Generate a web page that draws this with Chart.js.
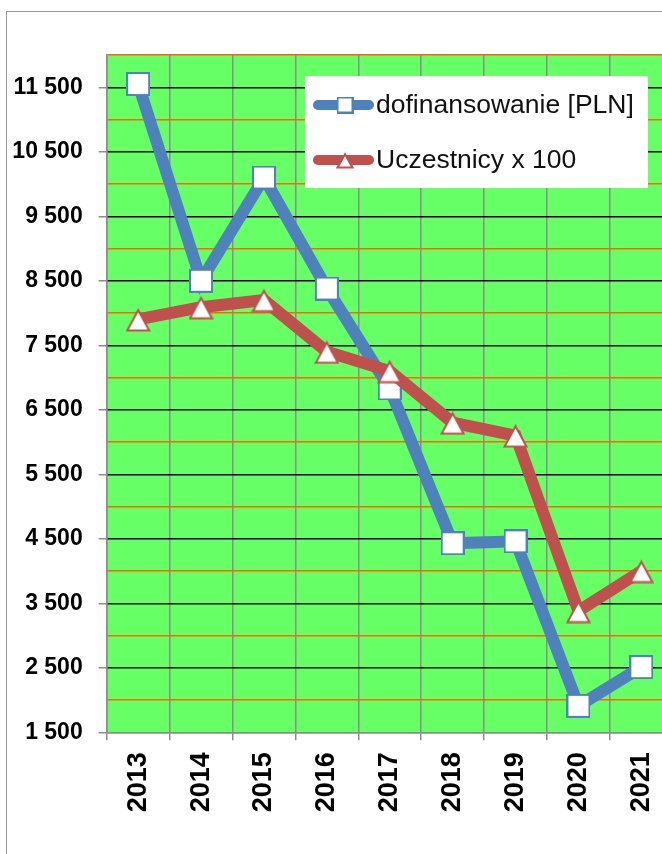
<!DOCTYPE html>
<html>
<head>
<meta charset="utf-8">
<script src="https://cdn.jsdelivr.net/npm/chart.js@4.4.1/dist/chart.umd.min.js"></script>
<style>
    html, body { margin: 0; padding: 0; background: #fff; overflow: hidden; width: 662px; height: 854px; }
    #frame { position: absolute; left: 6px; top: 11px; width: 800px; height: 900px; border: 1.5px solid #999; }
    #wrap { position: absolute; left: 0; top: 0; width: 700px; height: 854px; }
</style>
</head>
<body>
<div id="frame"></div>
<div id="wrap"><canvas id="chart" width="700" height="854"></canvas></div>
<script>
// data
const years = ['2013', '2014', '2015', '2016', '2017', '2018', '2019', '2020', '2021'];
const funding = [11550, 8500, 10100, 8380, 6830, 4430, 4460, 1910, 2510];
const participants = [7900, 8090, 8200, 7400, 7100, 6300, 6100, 3380, 4000];
const seriesLabels = ['dofinansowanie [PLN]', 'Uczestnicy x 100'];
const yMin = 1500, yMax = 12000, yStep = 500;

const BLUE = '#4F81BD';
const RED = '#C0504D';
const FONT = '"Liberation Sans", Arial, sans-serif';
const PLOT_RIGHT = 672.6;

function isMajor(v) {
    return (v - yMin) % 1000 === 0;
}

function fmt(v) {
    return String(v).replace(/\B(?=(\d{3})+(?!\d))/g, ' ');
}

// marker images
function squareMarker(size, color, lw) {
    const c = document.createElement('canvas');
    c.width = c.height = size;
    const g = c.getContext('2d');
    g.fillStyle = '#fff';
    g.fillRect(0, 0, size, size);
    g.strokeStyle = color;
    g.lineWidth = lw;
    g.strokeRect(lw / 2, lw / 2, size - lw, size - lw);
    return c;
}

function triangleMarker(size, color, lw) {
    const c = document.createElement('canvas');
    c.width = c.height = size;
    const g = c.getContext('2d');
    g.beginPath();
    g.moveTo(size / 2, lw * 1.6);
    g.lineTo(size - lw / 2 - 0.5, size - lw / 2 - 0.5);
    g.lineTo(lw / 2 + 0.5, size - lw / 2 - 0.5);
    g.closePath();
    g.fillStyle = '#fff';
    g.fill();
    g.strokeStyle = color;
    g.lineWidth = lw;
    g.lineJoin = 'miter';
    g.stroke();
    return c;
}

const sqBig = squareMarker(24, BLUE, 2);
const triBig = triangleMarker(25, RED, 2);
const sqSmall = squareMarker(17, BLUE, 2);
const triSmall = triangleMarker(18, RED, 2);

// green plot background
const plotBg = {
    id: 'plotBg',
    beforeDraw(chart) {
        const a = chart.chartArea, ctx = chart.ctx;
        ctx.save();
        ctx.fillStyle = '#66FF66';
        ctx.fillRect(a.left, a.top, a.right - a.left, a.bottom - a.top);
        ctx.restore();
    }
};

// legend box inside the plot
const boxLegend = {
    id: 'boxLegend',
    afterDraw(chart) {
        const ctx = chart.ctx;
        const markers = [sqSmall, triSmall];
        const colors = [BLUE, RED];
        ctx.save();
        ctx.fillStyle = '#fff';
        ctx.fillRect(305, 76, 343, 112);
        seriesLabels.forEach((label, i) => {
            const y = 105 + i * 55;
            ctx.strokeStyle = colors[i];
            ctx.lineWidth = 10;
            ctx.lineCap = 'round';
            ctx.beginPath();
            ctx.moveTo(318, y);
            ctx.lineTo(369, y);
            ctx.stroke();
            const m = markers[i];
            ctx.drawImage(m, 345 - m.width / 2, y - m.height / 2);
            ctx.fillStyle = '#111';
            ctx.font = '26.5px ' + FONT;
            ctx.textBaseline = 'middle';
            ctx.textAlign = 'left';
            ctx.fillText(label, 376, y + 1);
        });
        ctx.restore();
    }
};

const ctx = document.getElementById('chart').getContext('2d');
const chart = new Chart(ctx, {
    type: 'line',
    data: {
        labels: years,
        datasets: [{
            label: seriesLabels[0],
            data: funding,
            borderColor: BLUE,
            borderWidth: 12,
            pointStyle: sqBig,
            pointRadius: 12,
            order: 1,
            clip: false
        }, {
            label: seriesLabels[1],
            data: participants,
            borderColor: RED,
            borderWidth: 12,
            pointStyle: triBig,
            pointRadius: 12,
            order: 0,
            clip: false
        }]
    },
    options: {
        responsive: false,
        animation: false,
        devicePixelRatio: 1,
        layout: { padding: { top: 55, right: 0, left: 0, bottom: 0 } },
        plugins: {
            legend: { display: false },
            tooltip: { enabled: false }
        },
        scales: {
            x: {
                offset: true,
                afterFit: s => { s.height = 121.7; },
                grid: { offset: true, color: '#8c8c8c', lineWidth: 1.5, tickLength: 8 },
                border: { color: '#8c8c8c', width: 1.5 },
                ticks: {
                    autoSkip: false,
                    minRotation: 90,
                    maxRotation: 90,
                    padding: 12,
                    color: '#000',
                    font: { family: FONT, size: 27, weight: 'bold' }
                }
            },
            y: {
                min: yMin,
                max: yMax,
                afterFit: s => { s.width = 106.7; },
                grid: {
                    tickLength: 8,
                    color: c => c.tick.value === yMin ? '#8c8c8c' : (isMajor(c.tick.value) ? '#000' : '#FF6600'),
                    tickColor: c => isMajor(c.tick.value) ? '#8c8c8c' : 'rgba(0,0,0,0)',
                    lineWidth: 1.5
                },
                border: { color: '#8c8c8c', width: 1.5 },
                ticks: {
                    stepSize: yStep,
                    padding: 16,
                    color: '#000',
                    font: { family: FONT, size: 23, weight: 'bold' },
                    callback: v => isMajor(v) ? fmt(v) : ''
                }
            }
        }
    },
    plugins: [plotBg, boxLegend, {
        // pin the right edge of the plot where the reference has it
        id: 'pinRight',
        afterLayout(chart) {
            const a = chart.chartArea;
            if (Math.abs(a.right - PLOT_RIGHT) > 0.5) {
                const pad = chart.options.layout.padding;
                pad.right = Math.max(0, (pad.right || 0) + a.right - PLOT_RIGHT);
                chart.update('none');
            }
        }
    }]
});
</script>
</body>
</html>
